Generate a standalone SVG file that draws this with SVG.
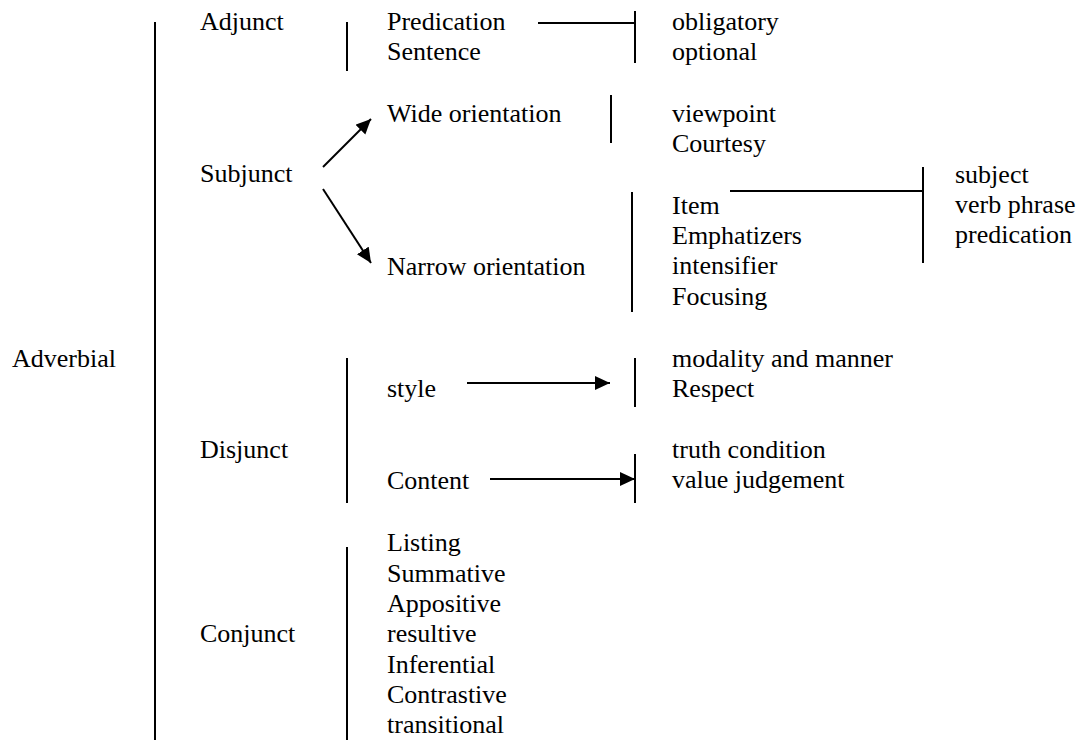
<svg xmlns="http://www.w3.org/2000/svg" width="1082" height="740" viewBox="0 0 1082 740">
<style>
svg text, svg g text{font-family:Liberation Serif,Times New Roman,serif !important;font-size:26px;fill:#000}
.l{stroke:#000;stroke-width:2;fill:none}
.a{stroke:#000;stroke-width:2;fill:none;marker-end:url(#ah)}
</style>
<defs>
<marker id="ah" markerUnits="userSpaceOnUse" markerWidth="16" markerHeight="16" refX="15" refY="7" orient="auto" viewBox="0 0 16 16">
<path d="M0,0 L15,7 L0,14 z" fill="#000"/>
</marker>
</defs>
<rect width="1082" height="740" fill="#fff"/>
<g id="connectors">
<line class="l" x1="155" y1="22" x2="155" y2="740"/>
<line class="l" x1="347" y1="22" x2="347" y2="71"/>
<line class="l" x1="538" y1="23" x2="635" y2="23"/>
<line class="l" x1="635" y1="11" x2="635" y2="63"/>
<line class="l" x1="611" y1="95" x2="611" y2="143"/>
<line class="a" x1="323" y1="167" x2="371" y2="119"/>
<line class="a" x1="323" y1="189" x2="371" y2="263"/>
<line class="l" x1="632" y1="192" x2="632" y2="312"/>
<line class="l" x1="730" y1="191" x2="923" y2="191"/>
<line class="l" x1="923" y1="167" x2="923" y2="263"/>
<line class="l" x1="347" y1="358" x2="347" y2="503"/>
<line class="a" x1="467" y1="383" x2="610" y2="383"/>
<line class="l" x1="635" y1="358" x2="635" y2="407"/>
<line class="a" x1="490" y1="479" x2="635" y2="479"/>
<line class="l" x1="635" y1="454" x2="635" y2="503"/>
<line class="l" x1="347" y1="547" x2="347" y2="740"/>
</g>
<g id="adverbial"><text x="12" y="367" style="font-family:Liberation Serif,serif !important">Adverbial</text></g>
<g id="adjunct"><text x="200" y="30" style="font-family:Liberation Serif,serif !important">Adjunct</text></g>
<g id="adjunct-types"><text x="387" y="30" style="font-family:Liberation Serif,serif !important">Predication</text><text x="387" y="60" style="font-family:Liberation Serif,serif !important">Sentence</text></g>
<g id="adjunct-values"><text x="672" y="30" style="font-family:Liberation Serif,serif !important">obligatory</text><text x="672" y="60" style="font-family:Liberation Serif,serif !important">optional</text></g>
<g id="subjunct"><text x="200" y="182" style="font-family:Liberation Serif,serif !important">Subjunct</text></g>
<g id="wide"><text x="387" y="122" style="font-family:Liberation Serif,serif !important">Wide orientation</text></g>
<g id="wide-types"><text x="672" y="122" style="font-family:Liberation Serif,serif !important">viewpoint</text><text x="672" y="152" style="font-family:Liberation Serif,serif !important">Courtesy</text></g>
<g id="narrow"><text x="387" y="275" style="font-family:Liberation Serif,serif !important">Narrow orientation</text></g>
<g id="narrow-types"><text x="672" y="214" style="font-family:Liberation Serif,serif !important">Item</text><text x="672" y="244" style="font-family:Liberation Serif,serif !important">Emphatizers</text><text x="672" y="274" style="font-family:Liberation Serif,serif !important">intensifier</text><text x="672" y="305" style="font-family:Liberation Serif,serif !important">Focusing</text></g>
<g id="item-types"><text x="955" y="183" style="font-family:Liberation Serif,serif !important">subject</text><text x="955" y="213" style="font-family:Liberation Serif,serif !important">verb phrase</text><text x="955" y="243" style="font-family:Liberation Serif,serif !important">predication</text></g>
<g id="disjunct"><text x="200" y="458" style="font-family:Liberation Serif,serif !important">Disjunct</text></g>
<g id="style"><text x="387" y="397" style="font-family:Liberation Serif,serif !important">style</text></g>
<g id="style-types"><text x="672" y="367" style="font-family:Liberation Serif,serif !important">modality and manner</text><text x="672" y="397" style="font-family:Liberation Serif,serif !important">Respect</text></g>
<g id="content"><text x="387" y="489" style="font-family:Liberation Serif,serif !important">Content</text></g>
<g id="content-types"><text x="672" y="458" style="font-family:Liberation Serif,serif !important">truth condition</text><text x="672" y="488" style="font-family:Liberation Serif,serif !important">value judgement</text></g>
<g id="conjunct"><text x="200" y="642" style="font-family:Liberation Serif,serif !important">Conjunct</text></g>
<g id="conjunct-types"><text x="387" y="551" style="font-family:Liberation Serif,serif !important">Listing</text><text x="387" y="582" style="font-family:Liberation Serif,serif !important">Summative</text><text x="387" y="612" style="font-family:Liberation Serif,serif !important">Appositive</text><text x="387" y="642" style="font-family:Liberation Serif,serif !important">resultive</text><text x="387" y="673" style="font-family:Liberation Serif,serif !important">Inferential</text><text x="387" y="703" style="font-family:Liberation Serif,serif !important">Contrastive</text><text x="387" y="733" style="font-family:Liberation Serif,serif !important">transitional</text></g>
</svg>
